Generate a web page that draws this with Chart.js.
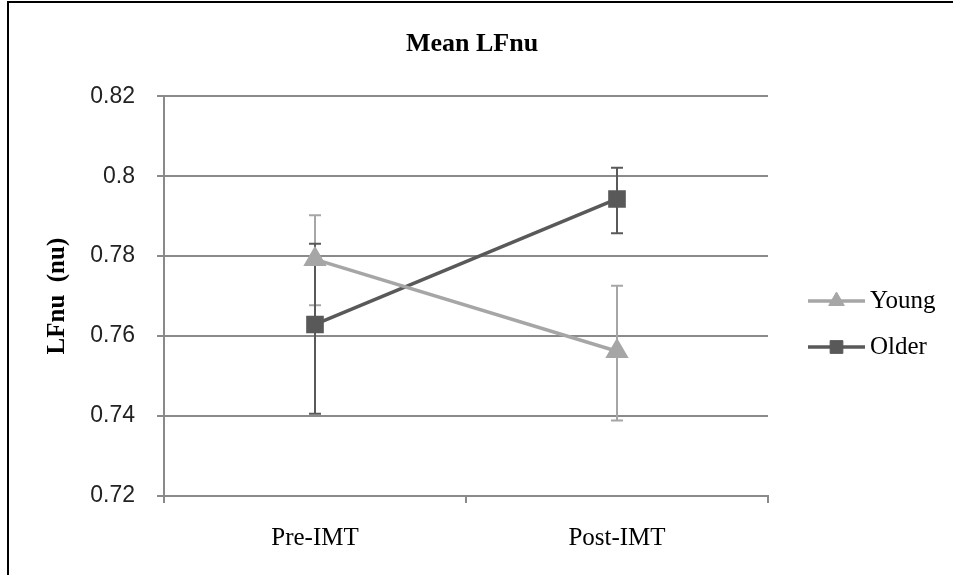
<!DOCTYPE html>
<html>
<head>
<meta charset="utf-8">
<script src="https://cdn.jsdelivr.net/npm/chart.js@4"></script>
<style>
    html, body { margin: 0; padding: 0; background: #fff; overflow: hidden; }
    #wrap { position: relative; width: 953px; height: 575px; }
    #frame { position: absolute; left: 7px; top: 1px; width: 1000px; height: 1000px; border: 2px solid #000; box-sizing: border-box; pointer-events: none; }
</style>
</head>
<body>
<div id="wrap">
    <canvas id="lfnuChart" width="953" height="575"></canvas>
    <div id="frame"></div>
</div>
<script>
// Dados
const categories = ['Pre-IMT', 'Post-IMT'];
const youngMean = [0.7792, 0.7562];
const youngHigh = [0.7902, 0.7726];
const youngLow = [0.7677, 0.7389];
const olderMean = [0.7629, 0.7943];
const olderHigh = [0.7831, 0.8021];
const olderLow = [0.7406, 0.7857];
const yTicks = [0.72, 0.74, 0.76, 0.78, 0.8, 0.82];

const YOUNG = '#a6a6a6';
const OLDER = '#595959';
const GRID = '#8a8a8a';
const SERIF = '"Liberation Serif", "Times New Roman", serif';

// Barras de erro (desenhadas antes das linhas)
const errorBars = {
    id: 'errorBars',
    beforeDatasetsDraw(chart) {
        const ctx = chart.ctx;
        const y = chart.scales.y;
        chart.data.datasets.forEach((ds, i) => {
            const meta = chart.getDatasetMeta(i);
            ctx.save();
            ctx.strokeStyle = ds.borderColor;
            ctx.lineWidth = 2;
            meta.data.forEach((pt, j) => {
                const top = y.getPixelForValue(ds.high[j]);
                const bot = y.getPixelForValue(ds.low[j]);
                ctx.beginPath();
                ctx.moveTo(pt.x, top); ctx.lineTo(pt.x, bot);
                ctx.moveTo(pt.x - 6, top); ctx.lineTo(pt.x + 6, top);
                ctx.moveTo(pt.x - 6, bot); ctx.lineTo(pt.x + 6, bot);
                ctx.stroke();
            });
            ctx.restore();
        });
    }
};

// Legenda à direita com linha + marcador
const sideLegend = {
    id: 'sideLegend',
    afterDraw(chart) {
        const ctx = chart.ctx;
        const x0 = 808, x1 = 865, rows = [301, 347];
        chart.data.datasets.forEach((ds, i) => {
            const yy = rows[i];
            ctx.save();
            ctx.strokeStyle = ds.borderColor;
            ctx.lineWidth = 3.5;
            ctx.beginPath();
            ctx.moveTo(x0, yy); ctx.lineTo(x1, yy);
            ctx.stroke();
            ctx.fillStyle = ds.pointBackgroundColor;
            ctx.strokeStyle = ds.pointBackgroundColor;
            ctx.lineWidth = 1;
            Chart.helpers.drawPoint(ctx, { pointStyle: ds.pointStyle, radius: ds.pointRadius - 1, borderWidth: 1 }, (x0 + x1) / 2, yy);
            ctx.fillStyle = '#000';
            ctx.font = '25px ' + SERIF;
            ctx.textBaseline = 'middle';
            ctx.textAlign = 'left';
            ctx.fillText(ds.label, x1 + 5, yy);
            ctx.restore();
        });
    }
};

new Chart(document.getElementById('lfnuChart'), {
    type: 'line',
    data: {
        labels: categories,
        datasets: [
            {
                label: 'Young',
                data: youngMean,
                high: youngHigh,
                low: youngLow,
                borderColor: YOUNG,
                backgroundColor: YOUNG,
                pointBackgroundColor: YOUNG,
                pointBorderColor: YOUNG,
                pointStyle: 'triangle',
                pointRadius: 10,
                borderWidth: 3.5
            },
            {
                label: 'Older',
                data: olderMean,
                high: olderHigh,
                low: olderLow,
                borderColor: OLDER,
                backgroundColor: OLDER,
                pointBackgroundColor: OLDER,
                pointBorderColor: OLDER,
                pointStyle: 'rect',
                pointRadius: 10,
                borderWidth: 3.5
            }
        ]
    },
    options: {
        responsive: false,
        animation: false,
        layout: { padding: { left: 0, right: 9, top: 0, bottom: 2 } },
        scales: {
            x: {
                offset: true,
                grid: {
                    offset: true,
                    drawOnChartArea: false,
                    drawTicks: true,
                    tickLength: 7,
                    color: GRID,
                    lineWidth: 2
                },
                border: { color: GRID, width: 2 },
                ticks: {
                    padding: 20,
                    color: '#000',
                    font: { family: SERIF, size: 25, lineHeight: 1.2 }
                }
            },
            y: {
                min: 0.72,
                max: 0.82,
                afterBuildTicks: (scale) => { scale.ticks = yTicks.map(v => ({ value: v })); },
                afterFit: (scale) => { scale.width = 164; },
                grid: { color: GRID, lineWidth: 2, tickLength: 7 },
                border: { color: GRID, width: 2 },
                ticks: {
                    padding: 22,
                    color: '#222',
                    font: { family: '"Liberation Sans", Arial, sans-serif', size: 23 },
                    callback: (v) => String(v)
                },
                title: {
                    display: true,
                    text: 'LFnu  (nu)',
                    color: '#000',
                    padding: { top: 43, bottom: 0 },
                    font: { family: SERIF, size: 25, weight: 'bold', lineHeight: 1.2 }
                }
            },
            // eixo invisível que reserva o espaço da legenda
            legendSpace: {
                type: 'linear',
                position: 'right',
                min: 0,
                max: 1,
                afterFit: (scale) => { scale.width = 176; },
                grid: { display: false },
                border: { display: false },
                ticks: { display: false }
            }
        },
        plugins: {
            legend: { display: false },
            tooltip: { enabled: false },
            title: {
                display: true,
                text: 'Mean LFnu',
                color: '#000',
                padding: { top: 29, bottom: 36 },
                font: { family: SERIF, size: 26, weight: 'bold', lineHeight: 1.2 }
            }
        }
    },
    plugins: [errorBars, sideLegend]
});
</script>
</body>
</html>
